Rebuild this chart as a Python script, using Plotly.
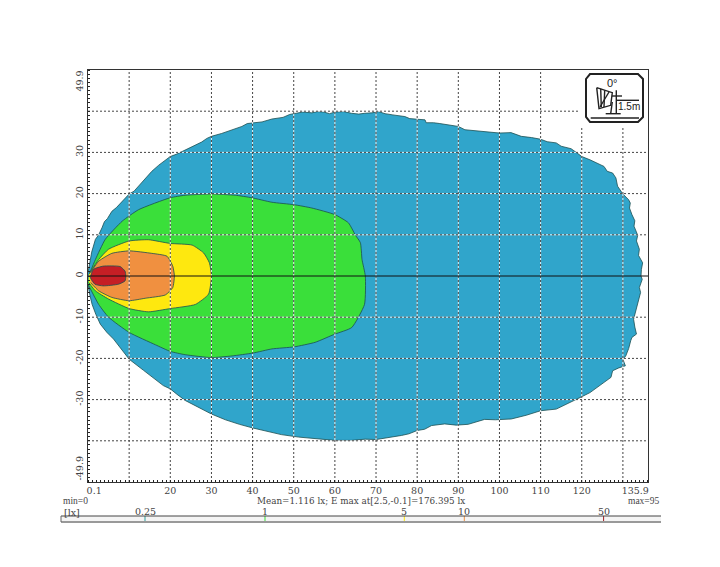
import math

import plotly.graph_objects as go

# Illuminance outlines (metres)
blue_x = [0, 0.4, 0.9, 1.8, 2.6, 3.4, 4.0, 4.7, 5.8, 6.9, 8.3, 9.1, 10, 11.2, 12.3, 13.6, 15.5, 17.2, 18.6, 20,
          21.6, 23.6, 25.4, 27.6, 28.9, 30, 32.5, 35, 37.4, 38.7, 40, 42.3, 44.7, 47.4, 49, 50.1, 52.2, 54.4, 55.7,
          57.3, 58.7, 60, 62.2, 64, 65.8, 67.3, 69, 70.6, 72.2, 74.1, 77, 78.2, 80, 81.9, 82.2, 84, 85.5, 87, 90,
          91.6, 94, 97, 100, 102.8, 105.3, 107.8, 110, 111.6, 113.8, 115, 117.4, 118.8, 120, 122, 123.8, 125.4,
          126.2, 127.5, 128.3, 128.7, 130, 131.4, 131.8, 131.6, 132.2, 132.9, 132.7, 133.6, 133.3, 134, 133.8,
          134.8, 134.5, 134.4, 134.7, 134, 134.3, 134, 133.5, 133.2, 132.6, 132.9, 133.3, 132.2, 131.9, 131.4,
          130.7, 130, 130.6, 129, 127.5, 127.1, 125.4, 123.9, 122, 120, 117, 113.8, 110, 106.5, 102.9, 99, 96.4,
          94.2, 92.4, 89.5, 86.7, 83.5, 81.8, 80, 78, 76.2, 73, 70, 67.4, 64, 60, 55.5, 51.2, 47, 43.1, 40.1,
          36.8, 33.4, 30, 27, 23.6, 21.6, 20, 18.3, 16.8, 13.5, 10, 8, 6.2, 4.6, 3, 1.9, 1, 0.4, 0]
blue_y = [0.8, 3.5, 5.8, 8.9, 10.0, 11.7, 13.2, 13.9, 15.7, 16.6, 18.1, 18.9, 19.9, 20.6, 21.8, 23.4, 25.4, 26.9, 28.0, 29,
          29.6, 30.6, 31.6, 32.5, 33.4, 33.9, 34.6, 35.5, 36.3, 37.0, 37.1, 37.4, 38.1, 38.5, 39.2, 39.4, 39.8, 39.6, 39.9,
          39.8, 39.4, 39.8, 39.9, 39.5, 39.3, 39.5, 39.6, 39.9, 39.4, 39.1, 38.7, 38.2, 38.0, 37.9, 37.2, 37.2, 37, 36.8, 36.3,
          35.5, 35.3, 35.0, 34.7, 34.8, 33.9, 33.6, 33.2, 32.6, 32.3, 31.5, 30.9, 29.9, 29, 28.2, 27.4, 26.6,
          25.4, 25, 23.8, 21.8, 19.9, 18.5, 17.7, 16.5, 14.9, 13.4, 12.1, 9.9, 8.5, 6.5, 5,
          3.2, 1.6, 0, -0.8, -2.8, -4, -5.2, -7, -8.5, -10.5, -12.4, -14.1, -14.9, -15.7, -17.6,
          -19.4, -20.2, -21.8, -22.3, -23, -24.6, -25.8, -27, -28.3, -29.3, -30.8, -32.3, -32.7, -33.8, -34.7, -34.9, -34.8,
          -35.5, -36, -36.2, -35.9, -36.3, -37.2, -37.5, -38.3, -38.7, -39.2, -39.7, -39.6, -39.9, -39.9, -39.5, -39.1, -38.5, -37.7, -36.9,
          -36, -34.9, -33.5, -32, -30.2, -28.7, -27.4, -26.6, -25.4, -22.9, -20.2, -17.7, -15.3, -13.7, -11.7, -9.3, -6.9, -4.4, -2]

green_x = [0.3, 1.8, 4.2, 8.3, 12.3, 20, 23.6, 30, 35.8, 39.8, 44.7, 50.1, 54.4, 60, 63.3, 65, 66.2, 66.6, 67.4,
           67.2, 64.1, 60, 55.2, 50.1, 44.7, 40.1, 35, 30, 23.6, 20, 16.4, 10, 5, 2.6, 0]
green_y = [0.4, 4, 8.9, 13.3, 16.1, 19, 19.6, 19.9, 19.6, 19, 17.9, 17.3, 16.5, 14.9, 12.9, 9.9, 8.1, 4, 0,
           -6.9, -12.5, -14.1, -16.1, -17.2, -17.7, -18.7, -19.4, -19.8, -19.1, -18.3, -16.7, -13.7, -10, -6.9, -2]

yellow_x = [0.2, 2.6, 5, 10, 14.7, 20, 25.3, 28.1, 29.5, 30, 29.3, 26.1, 20, 14.7, 10, 5, 1.8, 0.2]
yellow_y = [0.4, 4, 6.5, 8.5, 8.8, 7.9, 7.5, 5.6, 3.2, 0, -4.4, -6.9, -7.9, -8.7, -7.9, -5.6, -3.6, -1.6]

orange_x = [0.6, 2.6, 5.8, 10, 15.5, 19.2, 20.6, 21, 20.6, 18.8, 13.9, 10, 5.8, 2.6, 0.6]
orange_y = [0.8, 3.6, 5.5, 6.1, 5.5, 4.8, 2.4, 0, -2.8, -4.6, -5.4, -6, -5.2, -3.6, -1.6]

red_x = [0.6, 1.3, 3.7, 7.8, 9, 9.2, 9, 7.4, 3.7, 1.7, 0.6]
red_y = [-0.4, 1.6, 2.4, 2.3, 1.2, 0, -1.2, -2, -2.4, -2, -0.4]

x_ticks = [1.5, 20, 30, 40, 50, 60, 70, 80, 90, 100, 110, 120, 133]
x_labels = ['0.1', '20', '30', '40', '50', '60', '70', '80', '90', '100', '110', '120', '135.9']
y_ticks = [47, 30, 20, 10, 0, -10, -20, -30, -47]
y_labels = ['49.9', '30', '20', '10', '0', '-10', '-20', '-30', '-49.9']
grid_x = [10, 20, 30, 40, 50, 60, 70, 80, 90, 100, 110, 120, 130]
grid_y = [40, 30, 20, 10, -10, -20, -30, -40]

scale_values = [0.25, 1, 5, 10, 50]
scale_labels = ['0.25', '1', '5', '10', '50']
scale_colors = ['#2f9f9f', '#3adf3a', '#fee80f', '#f09040', '#a01f25']

TEXT = '#444444'
FONT = 'DejaVu Serif'
X_MAX = 136.1
Y_MAX = 50

# figure area in page pixels, everything else is placed relative to it
LEFT, RIGHT, TOP, BOTTOM = 61, 661, 70, 522


def px(x):
    return (x - LEFT) / (RIGHT - LEFT)


def py(y):
    return (BOTTOM - y) / (BOTTOM - TOP)


fig = go.Figure()

fig.add_trace(go.Scatter(x=blue_x, y=blue_y, mode='lines', fill='toself', fillcolor='#30a5cb',
                         line=dict(color='#1c4f52', width=0.8), hoverinfo='skip'))
zones = [(green_x, green_y, '#3adf3a'), (yellow_x, yellow_y, '#fee80f'),
         (orange_x, orange_y, '#f09040'), (red_x, red_y, '#c51f25')]
for xs, ys, color in zones:
    fig.add_trace(go.Scatter(x=xs, y=ys, mode='lines', fill='toself', fillcolor=color,
                             line=dict(color='#1c4f52', width=0.8, shape='spline', smoothing=0.5), hoverinfo='skip'))

# grid: white under dark dots, so it reads white/dark on the fills
for dash, color in [('solid', 'rgba(255,255,255,0.85)'), ('2px 2px', '#444444')]:
    for v in grid_x:
        fig.add_trace(go.Scatter(x=[v, v], y=[-Y_MAX, Y_MAX], mode='lines',
                                 line=dict(color=color, width=1, dash=dash), hoverinfo='skip'))
    for v in grid_y:
        fig.add_trace(go.Scatter(x=[0, X_MAX], y=[v, v], mode='lines',
                                 line=dict(color=color, width=1, dash=dash), hoverinfo='skip'))

fig.add_trace(go.Scatter(x=[0, X_MAX], y=[0, 0], mode='lines',
                         line=dict(color='#111111', width=1), hoverinfo='skip'))

# scale strip on its own log axis
for v, color in zip(scale_values, scale_colors):
    fig.add_trace(go.Scatter(x=[v, v], y=[0, 1], xaxis='x2', yaxis='y2', mode='lines',
                             line=dict(color=color, width=1), hoverinfo='skip'))

axis_font = dict(family=FONT, size=9.5, color=TEXT)
minor_ticks = dict(ticks='inside', ticklen=2, tickwidth=1, tickcolor='#222222', dtick=1, tick0=0, showgrid=False)

fig.update_layout(
    width=720, height=567,
    margin=dict(l=LEFT, r=720 - RIGHT, t=TOP, b=567 - BOTTOM),
    paper_bgcolor='white', plot_bgcolor='white',
    showlegend=False,
    xaxis=dict(domain=[px(88), px(648)], range=[0, X_MAX], tickmode='array', tickvals=x_ticks, ticktext=x_labels,
               ticks='', tickfont=axis_font, showgrid=False, zeroline=False, showline=True, mirror=True,
               linecolor='#333333', linewidth=1, minor=minor_ticks, tickangle=0),
    yaxis=dict(domain=[py(482), py(70)], range=[-Y_MAX, Y_MAX], tickmode='array', tickvals=y_ticks, ticktext=y_labels,
               ticks='', tickfont=axis_font, showgrid=False, zeroline=False, showline=True, mirror=True,
               linecolor='#333333', linewidth=1, minor=minor_ticks, tickangle=-90),
    xaxis2=dict(domain=[0, 1], type='log', range=[-1.0236, 1.987], anchor='y2', showticklabels=False, ticks='',
                showgrid=False, zeroline=False, showline=False),
    yaxis2=dict(domain=[0, py(516)], range=[0, 1], anchor='x2', visible=False),
)

shapes = [
    # scale strip
    dict(type='rect', xref='x2 domain', yref='y2 domain', x0=0, x1=1, y0=0, y1=1, layer='below',
         fillcolor='#f4f4f4', line=dict(width=0)),
    dict(type='line', xref='x2 domain', yref='y2 domain', x0=0, x1=1, y0=1, y1=1, line=dict(color='#444444', width=1)),
    dict(type='line', xref='x2 domain', yref='y2 domain', x0=0, x1=1, y0=0, y1=0, line=dict(color='#999999', width=2)),
    dict(type='line', xref='x2 domain', yref='y2 domain', x0=0, x1=0, y0=0, y1=1, line=dict(color='#666666', width=1)),
    # blank corner behind the icon
    dict(type='rect', xref='paper', yref='paper', x0=px(580), x1=px(647.5), y0=py(128), y1=py(70.5),
         fillcolor='white', line=dict(width=0)),
]

# luminaire icon, drawn in page pixels
octagon = [(590, 74), (638, 74), (643, 79), (643, 117), (638, 122), (590, 122), (586, 117), (586, 79)]
path = 'M ' + ' L '.join(f'{px(x):.5f},{py(y):.5f}' for x, y in octagon) + ' Z'
shapes.append(dict(type='path', xref='paper', yref='paper', path=path, fillcolor='white',
                   line=dict(color='#222222', width=2)))
icon_lines = [
    [(596.7, 87.7), (612.3, 92.7), (610.7, 105.3), (599, 108.7), (596.7, 87.7)],
    [(600.7, 88.7), (601.3, 107)], [(604.7, 90.3), (604, 107)], [(609, 92), (600, 107)],
    [(616.3, 90.3), (616.3, 113.7)], [(612.3, 102), (610.7, 113.7)],
    [(612, 96), (622, 96)], [(616.7, 100.3), (639, 100.3)],
    [(605.7, 113.7), (620.7, 113.7)],
    [(590.7, 118), (639, 118)],
]
for line in icon_lines:
    path = 'M ' + ' L '.join(f'{px(x):.5f},{py(y):.5f}' for x, y in line)
    shapes.append(dict(type='path', xref='paper', yref='paper', path=path, line=dict(color='#222222', width=1.4)))
fig.update_layout(shapes=shapes)


def note(x, y, text, anchor='left', size=9.5, color=TEXT, family=FONT):
    fig.add_annotation(xref='paper', yref='paper', x=px(x), y=py(y), text=text, showarrow=False,
                       xanchor=anchor, yanchor='middle', font=dict(family=family, size=size, color=color))


note(61, 500.5, 'min=0', family='Liberation Serif')
note(62, 512, '[lx]')
note(361, 500.5, 'Mean=1.116 lx; E max at[2.5,-0.1]=176.395 lx', anchor='center', size=8.8)
note(661, 500.5, 'max=95', anchor='right', family='Liberation Serif')
note(612, 83, '0°', anchor='center', size=11, color='#222222', family='Liberation Sans')
note(629, 107, '1.5m', anchor='center', size=10, color='#222222', family='Liberation Sans')

# scale labels sit on the log axis, annotations there take log10 of the value
for v, label in zip(scale_values, scale_labels):
    fig.add_annotation(xref='x2', yref='paper', x=math.log10(v), y=py(511.5), text=label, showarrow=False,
                       xanchor='center', yanchor='middle', font=axis_font)

# plotly leaves the browser's default page margin, drop it so the pixel layout holds
fig.write_html("out.html", config=dict(displayModeBar=False),
               post_script="document.body.style.margin='0';")
